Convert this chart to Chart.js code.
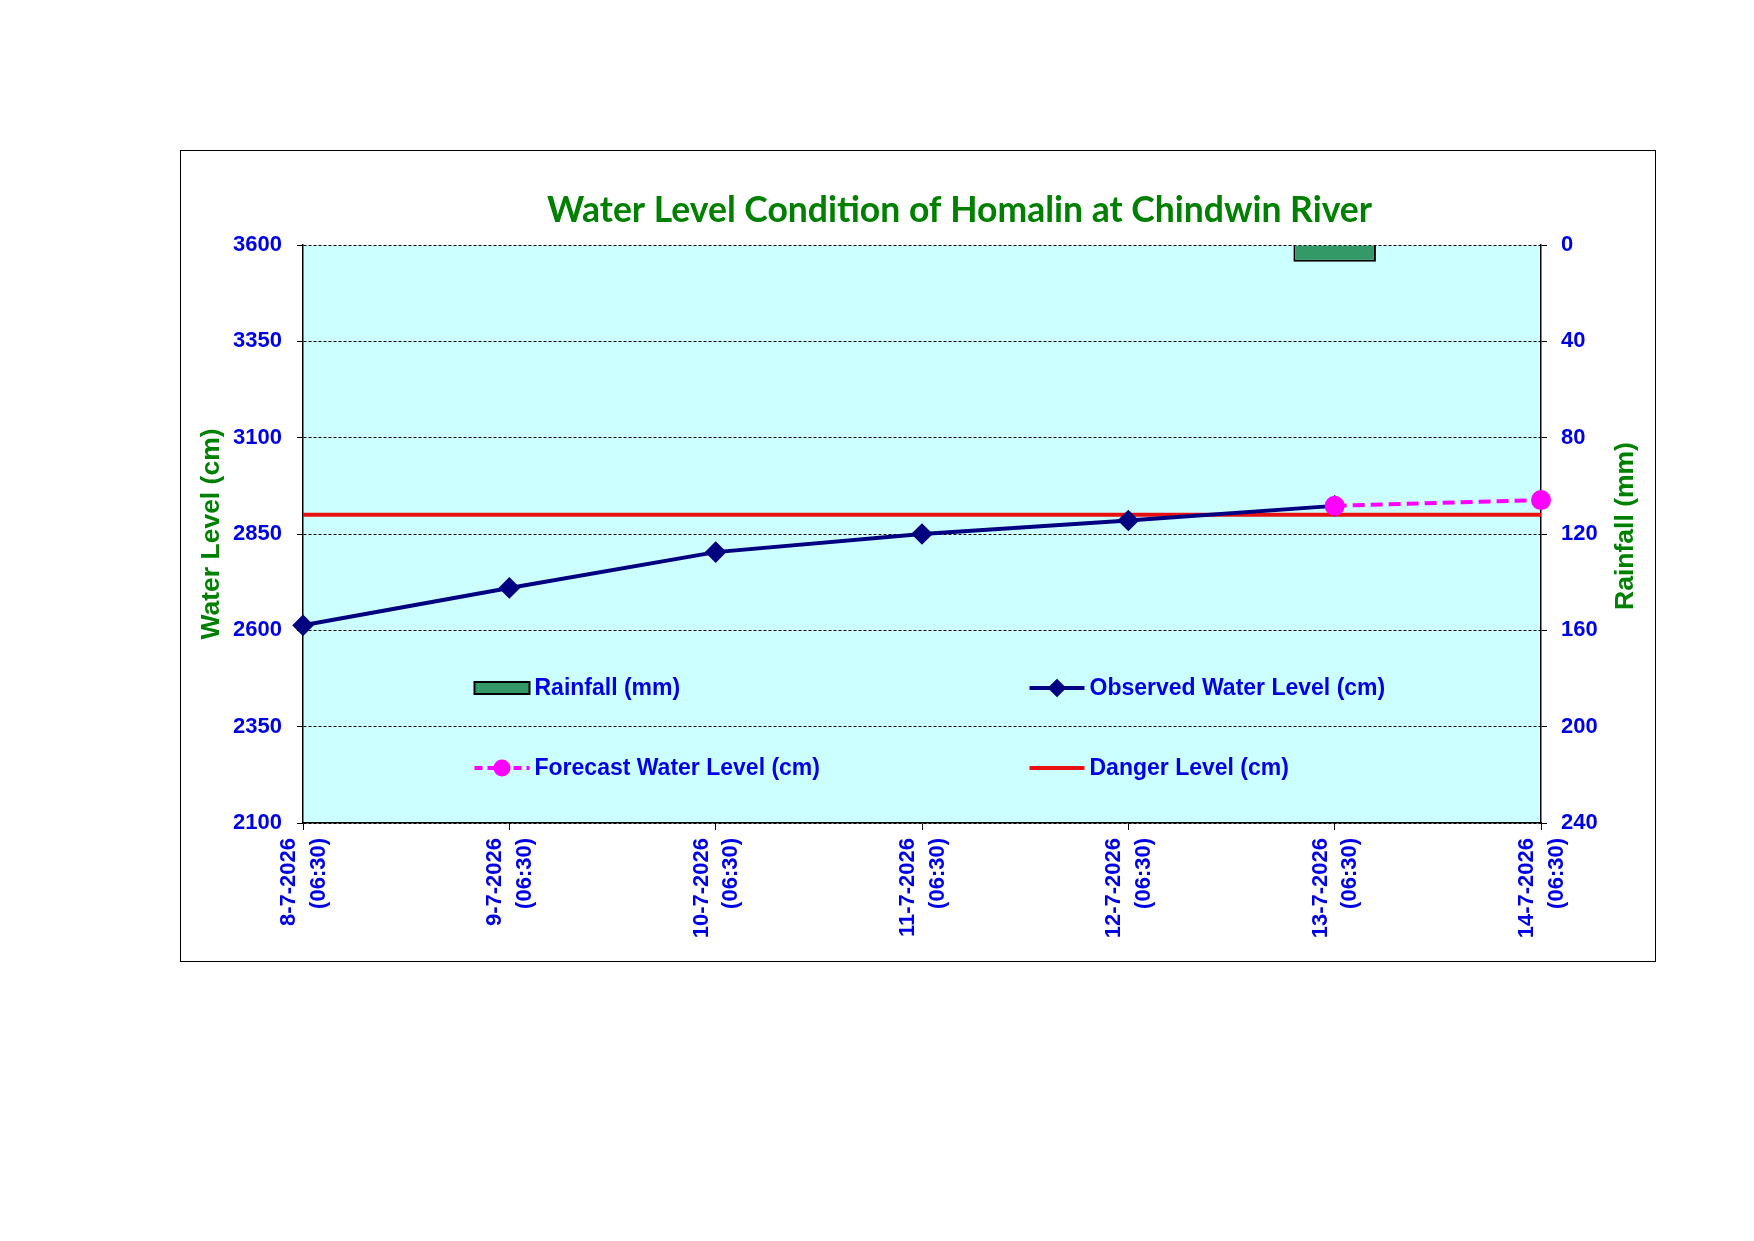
<!DOCTYPE html>
<html>
<head>
<meta charset="utf-8">
<script src="https://cdn.jsdelivr.net/npm/chart.js@4.4.1/dist/chart.umd.min.js"></script>
<style>
  html, body { margin: 0; padding: 0; background: #ffffff; width: 1754px; height: 1241px; overflow: hidden; }
  #frame { position: absolute; left: 180px; top: 150px; width: 1476px; height: 812px; border: 1px solid #000; box-sizing: border-box; background: #fff; }
  #c { display: block; }
</style>
</head>
<body>
<div id="frame"><canvas id="c" width="1474" height="810"></canvas></div>
<script>
// ---- data ----
const categories = [
  ["8-7-2026", "(06:30)"],
  ["9-7-2026", "(06:30)"],
  ["10-7-2026", "(06:30)"],
  ["11-7-2026", "(06:30)"],
  ["12-7-2026", "(06:30)"],
  ["13-7-2026", "(06:30)"],
  ["14-7-2026", "(06:30)"]
];
const rainfall = [0, 0, 0, 0, 0, 7, null];
const observedLevel = [2613, 2710, 2803, 2850, 2885, 2923, null];
const forecastLevel = [null, null, null, null, null, 2923, 2938];
const dangerLevel = [2900, 2900, 2900, 2900, 2900, 2900, 2900];
const waterTicks = { min: 2100, max: 3600, step: 250 };
const rainTicks = { min: 0, max: 240, step: 40 };

const BLUE = '#0000E6';
const GREEN = '#008000';
const AXFONT = "'Liberation Sans', Arial, sans-serif";

const plotBg = {
  id: 'plotBg',
  beforeDraw(chart) {
    const { ctx, chartArea: a } = chart;
    ctx.save();
    ctx.fillStyle = '#CCFFFF';
    ctx.fillRect(a.left, a.top, a.right - a.left, a.bottom - a.top);
    ctx.restore();
  }
};

const titleShift = {
  id: 'titleShift',
  afterLayout(chart, args, opts) {
    if (chart.titleBlock) {
      chart.titleBlock.left += opts.dx;
      chart.titleBlock.right += opts.dx;
    }
  }
};

const rightTitle = {
  id: 'rightTitle',
  afterDraw(chart, args, opts) {
    const s = chart.scales.y2;
    const a = chart.chartArea;
    const { ctx } = chart;
    ctx.save();
    ctx.translate(s.left + opts.dx, (a.top + a.bottom) / 2 + opts.dy);
    ctx.rotate(-Math.PI / 2);
    ctx.font = opts.font;
    ctx.fillStyle = opts.color;
    ctx.textAlign = 'center';
    ctx.textBaseline = 'middle';
    ctx.fillText(opts.text, 0, 0);
    ctx.restore();
  }
};

const gridLegend = {
  id: 'gridLegend',
  afterDatasetsDraw(chart, args, opts) {
    const { ctx, chartArea: a } = chart;
    const ds = chart.data.datasets;
    ctx.save();
    opts.items.forEach(it => {
      const d = ds[it.index];
      const x = a.left + opts.cols[it.col];
      const y = a.top + opts.rows[it.row];
      const L = opts.symbolWidth;
      if (d.type === 'bar') {
        ctx.fillStyle = d.backgroundColor;
        ctx.fillRect(x, y - 6, L, 12);
        ctx.lineWidth = 2;
        ctx.strokeStyle = d.borderColor;
        ctx.strokeRect(x, y - 6, L, 12);
      } else {
        ctx.beginPath();
        ctx.lineWidth = d.borderWidth;
        ctx.strokeStyle = d.borderColor;
        ctx.setLineDash(d.borderDash ? [8, 5] : []);
        ctx.moveTo(x, y);
        ctx.lineTo(x + L, y);
        ctx.stroke();
        ctx.setLineDash([]);
        if (d.pointRadius > 0) {
          ctx.fillStyle = d.pointBackgroundColor;
          ctx.strokeStyle = d.pointBorderColor;
          Chart.helpers.drawPoint(ctx, { pointStyle: d.pointStyle, radius: opts.pointRadius, rotation: 0, borderWidth: 1 }, x + L / 2, y);
        }
      }
      ctx.font = opts.font;
      ctx.fillStyle = opts.color;
      ctx.textAlign = 'left';
      ctx.textBaseline = 'middle';
      ctx.fillText(d.label, x + L + opts.gap, y + 1);
    });
    ctx.restore();
  }
};

new Chart(document.getElementById('c'), {
  type: 'line',
  data: {
    labels: categories,
    datasets: [
      {
        type: 'bar', label: 'Rainfall (mm)', data: rainfall, yAxisID: 'y2',
        backgroundColor: '#339966', borderColor: '#000000', borderWidth: 2,
        barPercentage: 0.5, categoryPercentage: 0.8, order: 4
      },
      {
        type: 'line', label: 'Observed Water Level (cm)', data: observedLevel, yAxisID: 'y',
        borderColor: '#000080', backgroundColor: '#000080', borderWidth: 4,
        pointStyle: 'rectRot', pointRadius: 8, pointBackgroundColor: '#000080', pointBorderColor: '#000080',
        tension: 0, spanGaps: false, order: 2
      },
      {
        type: 'line', label: 'Forecast Water Level (cm)', data: forecastLevel, yAxisID: 'y',
        borderColor: '#FF00FF', backgroundColor: '#FF00FF', borderWidth: 4, borderDash: [12, 6],
        pointStyle: 'circle', pointRadius: 8, pointBackgroundColor: '#FF00FF', pointBorderColor: '#FF00FF',
        tension: 0, order: 1
      },
      {
        type: 'line', label: 'Danger Level (cm)', data: dangerLevel, yAxisID: 'y',
        borderColor: '#E81010', backgroundColor: '#E81010', borderWidth: 4,
        pointRadius: 0, tension: 0, order: 3
      }
    ]
  },
  options: {
    responsive: false,
    animation: false,
    devicePixelRatio: 1,
    layout: { padding: { left: 0, right: 0, top: 0, bottom: 0 } },
    plugins: {
      legend: { display: false },
      tooltip: { enabled: false },
      title: {
        display: true,
        text: 'Water Level Condition of Homalin at Chindwin River',
        color: GREEN,
        font: { family: "Lato, 'Open Sans', sans-serif", size: 35.5, weight: 'bold', lineHeight: 1.2 },
        padding: { top: 38.7, bottom: 12.7 }
      },
      titleShift: { dx: 41.5 },
      rightTitle: { text: 'Rainfall (mm)', font: "bold 26.5px 'Liberation Sans', Arial, sans-serif", color: GREEN, dx: 84.5, dy: -8 },
      gridLegend: {
        items: [
          { index: 0, col: 0, row: 0 },
          { index: 1, col: 1, row: 0 },
          { index: 2, col: 0, row: 1 },
          { index: 3, col: 1, row: 1 }
        ],
        cols: [171.5, 726.5],
        rows: [443, 523],
        symbolWidth: 55,
        gap: 5,
        pointRadius: 6.5,
        font: "bold 23px 'Liberation Sans', Arial, sans-serif",
        color: BLUE
      }
    },
    scales: {
      x: {
        type: 'category',
        offset: false,
        grid: { offset: false, drawOnChartArea: false, drawTicks: true, tickLength: 7, tickColor: '#000', tickWidth: 1 },
        border: { display: true, color: '#000', width: 1.5 },
        ticks: {
          autoSkip: false, maxRotation: 90, minRotation: 90, padding: 8, labelOffset: -14,
          color: BLUE, font: { family: AXFONT, size: 22, weight: 'bold', lineHeight: 1.34 }
        },
        afterFit(scale) { scale.height = 138; }
      },
      y: {
        position: 'left',
        min: waterTicks.min, max: waterTicks.max,
        ticks: { stepSize: waterTicks.step, padding: 15, color: BLUE, font: { family: AXFONT, size: 22, weight: 'bold' }, callback: v => String(v) },
        grid: { color: '#000', lineWidth: 1, drawTicks: true, tickLength: 6, tickColor: '#000', tickBorderDash: [] },
        border: { display: true, color: '#000', width: 1.5, dash: [3, 2] },
        title: { display: true, text: 'Water Level (cm)', color: GREEN, font: { family: AXFONT, size: 26.5, weight: 'bold', lineHeight: 1.2 }, padding: { top: 15, bottom: 0 } },
        afterFit(scale) { scale.width = 122; }
      },
      y2: {
        position: 'right',
        reverse: true,
        min: rainTicks.min, max: rainTicks.max,
        ticks: { stepSize: rainTicks.step, padding: 14, color: BLUE, font: { family: AXFONT, size: 22, weight: 'bold' }, callback: v => String(v) },
        grid: { drawOnChartArea: false, drawTicks: true, tickLength: 6, tickColor: '#000', tickBorderDash: [] },
        border: { display: true, color: '#000', width: 1.5 },
        afterFit(scale) { scale.width = 114; }
      }
    }
  },
  plugins: [plotBg, titleShift, rightTitle, gridLegend]
});
</script>
</body>
</html>
